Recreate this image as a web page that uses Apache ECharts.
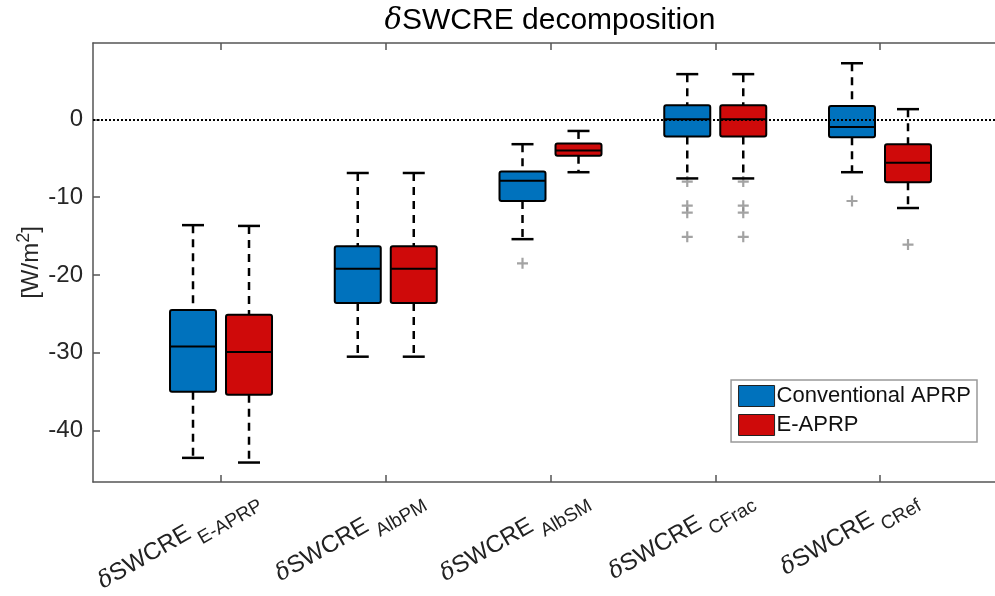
<!DOCTYPE html>
<html>
<head>
<meta charset="utf-8">
<script src="https://cdn.jsdelivr.net/npm/echarts@6/dist/echarts.min.js"></script>
<style>
  html, body { margin: 0; padding: 0; background: #fff; }
  #chart { width: 995px; height: 596px; }
</style>
</head>
<body>
<div id="chart"></div>
<script>
// categories (subscripts of dSWCRE)
const categories = ['E-APRP', 'AlbPM', 'AlbSM', 'CFrac', 'CRef'];

// [lower whisker, Q1, median, Q3, upper whisker]
const conventional = [
    [-43.5, -35.0, -29.2, -24.5, -13.6],
    [-30.5, -23.6, -19.2, -16.3, -6.9],
    [-15.4, -10.5, -7.9, -6.7, -3.2],
    [-7.6, -2.2, 0.0, 1.8, 5.8],
    [-6.8, -2.3, -1.0, 1.7, 7.2]
];
const eaprp = [
    [-44.1, -35.4, -29.9, -25.1, -13.7],
    [-30.5, -23.6, -19.2, -16.3, -6.9],
    [-6.8, -4.7, -4.0, -3.1, -1.5],
    [-7.6, -2.2, 0.0, 1.8, 5.8],
    [-11.4, -8.1, -5.6, -3.2, 1.3]
];

// outliers: [category index, value]
const conventionalOutliers = [[2, -18.5], [3, -8.0], [3, -11.1], [3, -12.0], [3, -15.1], [4, -10.5]];
const eaprpOutliers = [[3, -8.0], [3, -11.1], [3, -12.0], [3, -15.1], [4, -16.1]];

const yTicks = [-40, -30, -20, -10, 0];
const xTicks = [0, 1, 2, 3, 4];

const chart = echarts.init(document.getElementById('chart'));

const FONT = '"Liberation Sans", Arial, Helvetica, sans-serif';
const BOX_W = 46;   // box width px
const CAP_W = 22;   // whisker cap width px
const OFFSET = 28;  // distance of each box from the group centre
const LABEL_SHIFT = 0.22; // rotated tick labels sit a bit right of their tick

// draws one box with dashed whiskers
const makeRender = (offsetPx) => (params, api) => {
    const idx = api.value(0);
    const top = api.coord([idx, api.value(5)]);
    const cx = top[0] + offsetPx;
    const yHigh = top[1];
    const yLow = api.coord([idx, api.value(1)])[1];
    const yQ1 = api.coord([idx, api.value(2)])[1];
    const yMed = api.coord([idx, api.value(3)])[1];
    const yQ3 = api.coord([idx, api.value(4)])[1];
    const dash = { stroke: '#000', lineWidth: 2.5, lineDash: [8, 6] };
    const solid = { stroke: '#000', lineWidth: 2.5 };
    return {
        type: 'group',
        children: [
            { type: 'line', shape: { x1: cx, y1: yHigh, x2: cx, y2: yQ3 }, style: dash },
            { type: 'line', shape: { x1: cx, y1: yQ1, x2: cx, y2: yLow }, style: dash },
            { type: 'line', shape: { x1: cx - CAP_W / 2, y1: yHigh, x2: cx + CAP_W / 2, y2: yHigh }, style: solid },
            { type: 'line', shape: { x1: cx - CAP_W / 2, y1: yLow, x2: cx + CAP_W / 2, y2: yLow }, style: solid },
            {
                type: 'rect',
                shape: { x: cx - BOX_W / 2, y: yQ3, width: BOX_W, height: yQ1 - yQ3, r: 2 },
                style: { fill: api.visual('color'), stroke: '#000', lineWidth: 2 }
            },
            { type: 'line', shape: { x1: cx - BOX_W / 2, y1: yMed, x2: cx + BOX_W / 2, y2: yMed }, style: { stroke: '#000', lineWidth: 2 } }
        ]
    };
};

const plusSymbol = 'path://M4,0h2v4h4v2h-4v4h-2v-4h-4v-2h4z';
const frameLine = { show: true, onZero: false, lineStyle: { color: '#555', width: 1.5 } };
const tickStyle = { color: '#555', width: 1.5 };
const xMin = -0.777, xMax = 4.698;

const option = {
    animation: false,
    textStyle: { fontFamily: FONT },
    grid: { left: 93, right: 0, top: 43, bottom: 114, outerBoundsMode: 'none', containLabel: false },
    graphic: [{
        type: 'text',
        x: 550,
        y: 21,
        style: {
            text: '{d|δ}{t|SWCRE decomposition}',
            textAlign: 'center',
            textVerticalAlign: 'middle',
            rich: {
                d: { fontFamily: 'DejaVu Serif', fontStyle: 'italic', fontSize: 29, fill: '#000' },
                t: { fontFamily: FONT, fontSize: 30, fill: '#000' }
            }
        }
    }],
    legend: {
        orient: 'vertical',
        right: 18,
        top: 380,
        data: ['Conventional APRP', 'E-APRP'],
        icon: 'rect',
        itemWidth: 36,
        itemHeight: 21,
        itemGap: 7,
        padding: [5, 6, 6, 7],
        backgroundColor: '#fff',
        borderColor: '#999',
        borderWidth: 1.5,
        itemStyle: { borderColor: '#222', borderWidth: 1 },
        textStyle: { fontFamily: FONT, fontSize: 22, color: '#111', padding: [0, 0, 0, -3] }
    },
    xAxis: [{
        type: 'value',
        min: xMin,
        max: xMax,
        position: 'bottom',
        axisLine: frameLine,
        splitLine: { show: false },
        axisTick: { show: true, inside: true, length: 7, customValues: xTicks, lineStyle: tickStyle },
        axisLabel: {
            customValues: xTicks.map((v) => v + LABEL_SHIFT),
            rotate: 30,
            margin: 16,
            formatter: (v) => '{d|δ}{m|SWCRE}{s|' + categories[Math.floor(v)] + '}',
            rich: {
                d: { fontFamily: 'DejaVu Serif', fontStyle: 'italic', fontSize: 23, color: '#222', padding: [0, 0, 10, 0], verticalAlign: 'bottom' },
                m: { fontFamily: FONT, fontSize: 24, color: '#222', padding: [0, 0, 10, 0], verticalAlign: 'bottom' },
                s: { fontFamily: FONT, fontSize: 19, color: '#222', padding: [0, 0, 0, 5], verticalAlign: 'bottom' }
            }
        }
    }, {
        type: 'value',
        min: xMin,
        max: xMax,
        position: 'top',
        axisLine: frameLine,
        splitLine: { show: false },
        axisTick: { show: true, inside: true, length: 7, customValues: xTicks, lineStyle: tickStyle },
        axisLabel: { show: false }
    }],
    yAxis: {
        type: 'value',
        min: -46.6,
        max: 9.8,
        axisLine: frameLine,
        splitLine: { show: false },
        axisTick: { show: true, inside: true, length: 7, customValues: yTicks, lineStyle: tickStyle },
        axisLabel: { customValues: yTicks, fontFamily: FONT, fontSize: 24, color: '#262626', margin: 10 },
        name: '{t|[W/m}{p|2}{t|]}',
        nameLocation: 'middle',
        nameRotate: 90,
        nameGap: 50,
        nameMoveOverlap: false,
        nameTextStyle: {
            rich: {
                t: { fontFamily: FONT, fontSize: 24, color: '#262626', verticalAlign: 'bottom' },
                p: { fontFamily: FONT, fontSize: 18, color: '#262626', verticalAlign: 'bottom', padding: [0, 0, 10, 0] }
            }
        }
    },
    series: [
        {
            type: 'line',
            data: [],
            z: 1,
            silent: true,
            markLine: {
                silent: true,
                symbol: ['none', 'none'],
                label: { show: false },
                lineStyle: { color: '#000', width: 2, type: [2, 2] },
                data: [{ yAxis: 0 }]
            }
        },
        {
            name: 'Conventional APRP',
            type: 'custom',
            z: 3,
            itemStyle: { color: '#0072BD' },
            encode: { x: 0, y: [1, 2, 3, 4, 5] },
            renderItem: makeRender(-OFFSET),
            data: conventional.map((d, i) => [i, ...d])
        },
        {
            name: 'E-APRP',
            type: 'custom',
            z: 3,
            itemStyle: { color: '#CF0A0A' },
            encode: { x: 0, y: [1, 2, 3, 4, 5] },
            renderItem: makeRender(OFFSET),
            data: eaprp.map((d, i) => [i, ...d])
        },
        {
            type: 'scatter',
            z: 2,
            symbol: plusSymbol,
            symbolSize: 11,
            symbolOffset: [-OFFSET, 0],
            itemStyle: { color: '#8c8c8c' },
            data: conventionalOutliers
        },
        {
            type: 'scatter',
            z: 2,
            symbol: plusSymbol,
            symbolSize: 11,
            symbolOffset: [OFFSET, 0],
            itemStyle: { color: '#8c8c8c' },
            data: eaprpOutliers
        }
    ]
};

chart.setOption(option);
</script>
</body>
</html>
